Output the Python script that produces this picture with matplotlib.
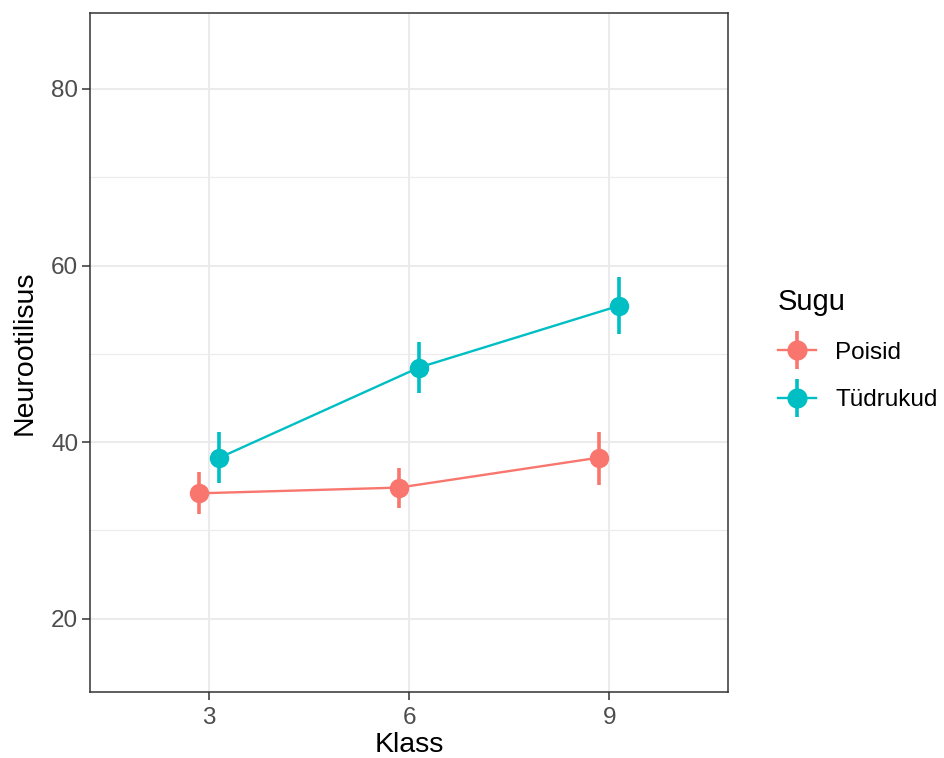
import matplotlib
matplotlib.use("Agg")
import matplotlib.pyplot as plt
from matplotlib.lines import Line2D
from matplotlib.legend_handler import HandlerTuple
from matplotlib.ticker import MultipleLocator
import numpy as np

klass = [3, 6, 9]
groups = ["Poisid", "Tüdrukud"]
poisid_mean = [34.2, 34.85, 38.25]
poisid_low = [31.85, 32.5, 35.1]
poisid_high = [36.6, 37.05, 41.2]
tudrukud_mean = [38.2, 48.45, 55.45]
tudrukud_low = [35.35, 45.6, 52.25]
tudrukud_high = [41.2, 51.3, 58.7]
colors = ["#F8766D", "#00BFC4"]
dodge = [-0.15, 0.15]

plt.rcParams['font.family'] = ['Liberation Sans', 'DejaVu Sans']

fig = plt.figure(figsize=(9.44, 7.58), dpi=100)
W, H = 944, 758
ax = fig.add_axes([90 / W, 1 - 692 / H, (728 - 90) / W, (692 - 13) / H])

means = [poisid_mean, tudrukud_mean]
lows = [poisid_low, tudrukud_low]
highs = [poisid_high, tudrukud_high]
handles = []
for g, col, dd, m, lo, hi in zip(groups, colors, dodge, means, lows, highs):
    x = np.array(klass) + dd
    ax.vlines(x, lo, hi, color=col, lw=2.6, zorder=3)
    ax.plot(x, m, color=col, lw=1.7, zorder=3)
    ax.plot(x, m, 'o', color=col, ms=14, zorder=4, mec='none')
    h1 = Line2D([], [], color=col, lw=1.7, marker='o', ms=14.5, mec='none')
    h2 = Line2D([], [], color=col, ls='none', marker='|', ms=27, mew=2.6)
    handles.append((h1, h2))

ax.set_xlim(1.22, 10.78)
ax.set_ylim(11.7, 88.6)
ax.set_xticks(klass)
ax.set_yticks([20, 40, 60, 80])
ax.yaxis.set_minor_locator(MultipleLocator(10))
ax.grid(True, which='major', color='#EBEBEB', lw=1.5, zorder=0)
ax.grid(True, which='minor', axis='y', color='#EBEBEB', lw=0.8, zorder=0)
ax.set_axisbelow(True)
ax.tick_params(which='minor', length=0)
ax.tick_params(which='major', length=5.5, width=1.1, color='#333333',
               labelcolor='#4D4D4D', labelsize=17.5)
ax.tick_params(axis='x', pad=5.5)
ax.tick_params(axis='y', pad=3)
for s in ax.spines.values():
    s.set_color('#333333')
    s.set_linewidth(1.1)
ax.set_xlabel("Klass", fontsize=20.5, color='black', labelpad=2)
ax.set_ylabel("Neurootilisus", fontsize=20.5, color='black', labelpad=10)

leg = fig.legend(handles, groups, handler_map={tuple: HandlerTuple(ndivide=1, pad=0)},
                 loc='upper left', bbox_to_anchor=(766 / W, 1 - 276 / H),
                 frameon=False, title="Sugu", fontsize=17.5, title_fontsize=21,
                 handlelength=1.55, handletextpad=0.8, labelspacing=1.05,
                 borderpad=0, alignment='left')

fig.savefig("out.png", dpi=100)
